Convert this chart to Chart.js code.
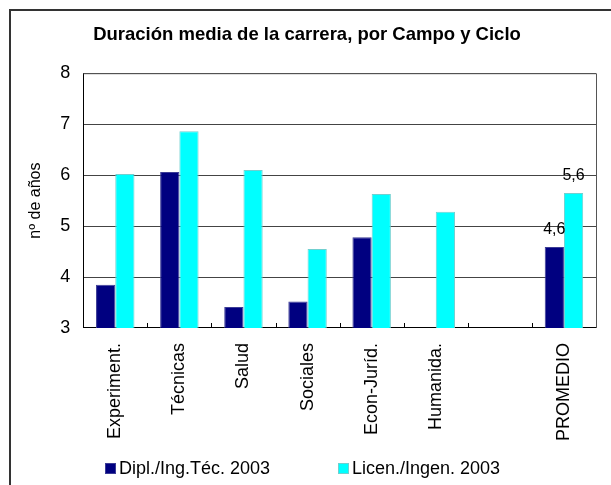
<!DOCTYPE html>
<html>
<head>
<meta charset="utf-8">
<script src="https://cdn.jsdelivr.net/npm/chart.js@4"></script>
<style>
  html, body { margin: 0; padding: 0; background: #fff; }
  #wrap { width: 611px; height: 485px; position: relative; }
</style>
</head>
<body>
<div id="wrap"><canvas id="durChart" width="611" height="485"></canvas></div>
<script>
// data
const campos = ['Experiment.', 'Técnicas', 'Salud', 'Sociales', 'Econ-Juríd.', 'Humanida.', '', 'PROMEDIO'];
const diplomaturas = [3.85, 6.06, 3.41, 3.52, 4.78, null, null, 4.59];
const licenciaturas = [6.02, 6.86, 6.10, 4.55, 5.63, 5.28, null, 5.65];
const diplLabels = [null, null, null, null, null, null, null, '4,6'];
const licLabels = [null, null, null, null, null, null, null, '5,6'];
const yTicks = [3, 4, 5, 6, 7, 8];

Chart.defaults.font.family = '"Liberation Sans", Arial, sans-serif';
Chart.defaults.color = '#000';

// frame round the whole chart + box round the plot area + inner ticks
const framePlugin = {
  id: 'frame',
  beforeDraw(chart) {
    const ctx = chart.ctx;
    ctx.save();
    ctx.fillStyle = '#fff';
    ctx.fillRect(0, 0, chart.width, chart.height);
    ctx.strokeStyle = '#333';
    ctx.lineWidth = 2;
    ctx.strokeRect(10, 10, chart.width + 40, chart.height + 40);
    ctx.restore();
  },
  afterDraw(chart) {
    const ctx = chart.ctx, a = chart.chartArea, xs = chart.scales.x;
    ctx.save();
    ctx.strokeStyle = '#555';
    ctx.lineWidth = 1;
    ctx.beginPath();
    ctx.moveTo(a.left, a.top + 0.5);
    ctx.lineTo(a.right + 0.5, a.top + 0.5);
    ctx.lineTo(a.right + 0.5, a.bottom);
    ctx.stroke();
    // small tick marks between categories, pointing up
    ctx.strokeStyle = '#000';
    ctx.beginPath();
    for (let i = 0; i < campos.length - 1; i++) {
      const x = Math.round((xs.getPixelForValue(i) + xs.getPixelForValue(i + 1)) / 2) + 0.5;
      ctx.moveTo(x, a.bottom);
      ctx.lineTo(x, a.bottom - 5);
    }
    ctx.stroke();
    ctx.restore();
  }
};

// value labels over the PROMEDIO bars
const valuePlugin = {
  id: 'values',
  afterDatasetsDraw(chart) {
    const ctx = chart.ctx;
    const lists = [diplLabels, licLabels];
    ctx.save();
    ctx.font = '16px "Liberation Sans", Arial, sans-serif';
    ctx.fillStyle = '#000';
    ctx.textAlign = 'center';
    ctx.textBaseline = 'middle';
    lists.forEach((labels, d) => {
      chart.getDatasetMeta(d).data.forEach((bar, i) => {
        if (!labels[i]) return;
        ctx.fillText(labels[i], bar.x, bar.y - 17);
      });
    });
    ctx.restore();
  }
};

// legend drawn by hand so the items can sit far apart
const legendPlugin = {
  id: 'ownLegend',
  afterDraw(chart) {
    const ctx = chart.ctx;
    const xs = [105, 338];
    ctx.save();
    ctx.font = '18px "Liberation Sans", Arial, sans-serif';
    ctx.textBaseline = 'middle';
    chart.data.datasets.forEach((ds, i) => {
      ctx.fillStyle = ds.backgroundColor;
      ctx.fillRect(xs[i], 463, 11, 11);
      ctx.strokeStyle = ds.borderColor;
      ctx.lineWidth = 1;
      ctx.strokeRect(xs[i] + 0.5, 463.5, 10, 10);
      ctx.fillStyle = '#000';
      ctx.fillText(ds.label, xs[i] + 14, 469);
    });
    ctx.restore();
  }
};

new Chart(document.getElementById('durChart').getContext('2d'), {
  type: 'bar',
  data: {
    labels: campos,
    datasets: [{
      label: 'Dipl./Ing.Téc. 2003',
      data: diplomaturas,
      backgroundColor: '#000080',
      borderColor: '#3c3c96',
      borderWidth: 1
    }, {
      label: 'Licen./Ingen. 2003',
      data: licenciaturas,
      backgroundColor: '#00ffff',
      borderColor: '#70d0d0',
      borderWidth: 1
    }]
  },
  options: {
    responsive: false,
    animation: false,
    layout: { padding: { left: 18, right: 15, top: 0, bottom: 37 } },
    datasets: { bar: { categoryPercentage: 0.6, barPercentage: 1 } },
    plugins: {
      legend: { display: false },
      tooltip: { enabled: false },
      title: {
        display: true,
        text: 'Duración media de la carrera, por Campo y Ciclo',
        font: { size: 18.5, weight: 'bold' },
        padding: { top: 24, bottom: 27 }
      }
    },
    scales: {
      x: {
        grid: { display: false },
        border: { color: '#000', width: 1 },
        ticks: { autoSkip: false, maxRotation: 90, minRotation: 90, padding: 7, font: { size: 18 } }
      },
      y: {
        min: 3,
        max: 8,
        afterBuildTicks(scale) { scale.ticks = yTicks.map(v => ({ value: v })); },
        grid: { color: '#444', drawTicks: false },
        border: { color: '#000', width: 1 },
        ticks: { padding: 13, font: { size: 18 } },
        title: {
          display: true,
          text: 'nº de años',
          font: { size: 16 },
          padding: { top: 8, bottom: 2 }
        }
      }
    }
  },
  plugins: [framePlugin, valuePlugin, legendPlugin]
});
</script>
</body>
</html>
